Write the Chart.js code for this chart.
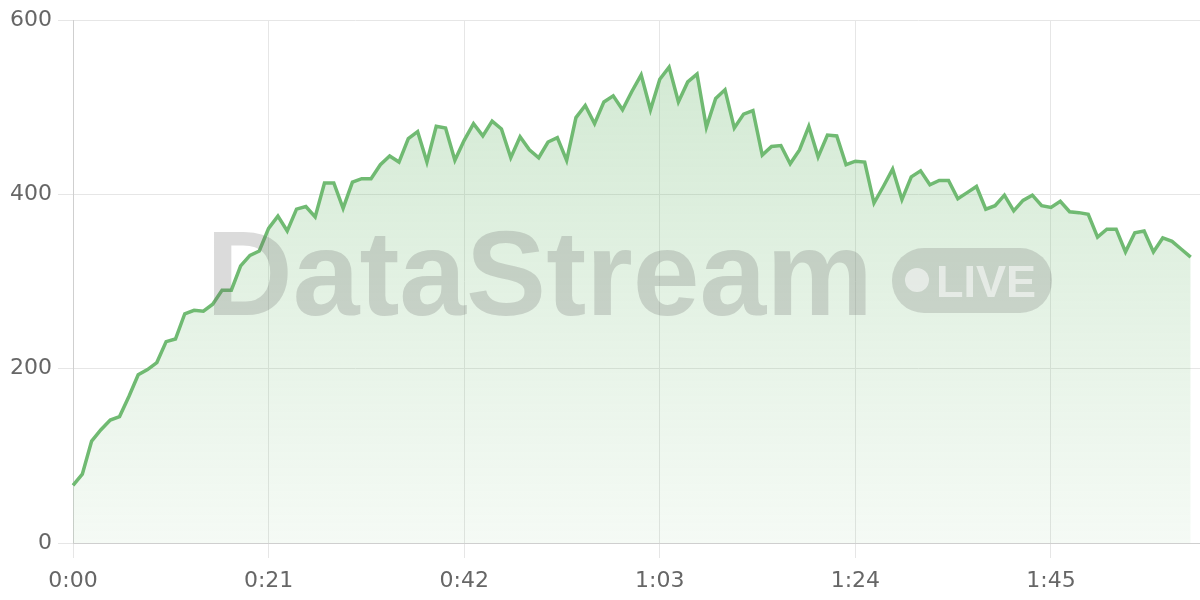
<!DOCTYPE html>
<html>
<head>
<meta charset="utf-8">
<script src="https://cdn.jsdelivr.net/npm/chart.js@4.4.0/dist/chart.umd.min.js"></script>
<style>
  html, body { margin: 0; padding: 0; background: #fff; }
  #wrap { position: relative; width: 1200px; height: 600px; }
  .wm { position: absolute; pointer-events: none; line-height: 1; white-space: nowrap;
        font-family: "Liberation Sans", Arial, sans-serif; }
  #wm-nombre { left: 206px; top: 213px; font-size: 120px; font-weight: bold; color: rgba(100,100,100,0.23); }
  #wm-live { left: 892px; top: 248px; width: 160px; height: 65px; border-radius: 32px; background: rgba(100,100,100,0.22); }
  #wm-punto { position: absolute; left: 13px; top: 20px; width: 24px; height: 24px; border-radius: 50%; background: rgba(255,255,255,0.55); }
  #wm-texto { position: absolute; left: 44px; top: 11px; font-size: 45px; font-weight: bold; line-height: 1; color: rgba(255,255,255,0.55); }
</style>
</head>
<body>
<div id="wrap">
  <canvas id="grafico" width="1200" height="600"></canvas>
  <div class="wm" id="wm-nombre">DataStream</div>
  <div class="wm" id="wm-live"><div id="wm-punto"></div><div id="wm-texto">LIVE</div></div>
</div>
<script>
// Valores (uno por segundo)
const valores = [
  66, 79, 117, 130, 141, 145, 168, 193, 199, 207,
  231, 234, 263, 267, 266, 274, 290, 290, 318, 330,
  335, 361, 375, 358, 383, 386, 374, 413, 413, 384,
  414, 418, 418, 434, 444, 437, 464, 472, 437, 478,
  476, 439, 462, 481, 467, 484, 475, 442, 466, 451,
  442, 460, 465, 439, 488, 502, 481, 506, 513, 497,
  518, 537, 497, 532, 546, 506, 529, 538, 477, 510,
  520, 476, 492, 496, 445, 455, 456, 435, 451, 478,
  443, 468, 467, 434, 438, 437, 390, 409, 429, 394,
  420, 427, 411, 416, 416, 395, 402, 409, 383, 387,
  399, 381, 393, 399, 387, 385, 392, 380, 379, 377,
  351, 360, 360, 334, 356, 358, 334, 350, 346, 337,
  328
];

// Etiquetas de tiempo (m:ss), una mas que los datos
const tiempos = [];
for (let s = 0; s <= valores.length; s++) {
  tiempos.push(Math.floor(s / 60) + ":" + String(s % 60).padStart(2, "0"));
}

// Marcas visibles en el eje X
const marcas = ["0:00", "0:21", "0:42", "1:03", "1:24", "1:45"];
const verde = "rgb(112,186,114)";
const fuente = { family: "DejaVu Sans", size: 22 };

const ctx = document.getElementById("grafico");
new Chart(ctx, {
  type: "line",
  data: {
    labels: tiempos,
    datasets: [
      {
        data: valores,
        borderColor: verde,
        borderWidth: 3.5,
        pointRadius: 0,
        tension: 0,
        fill: "origin",
        backgroundColor: (c) => {
          const area = c.chart.chartArea;
          if (!area) return "rgba(112,186,114,0.2)";
          const g = c.chart.ctx.createLinearGradient(0, area.top, 0, area.bottom);
          g.addColorStop(0, "rgba(112,186,114,0.33)");
          g.addColorStop(1, "rgba(112,186,114,0.07)");
          return g;
        },
      },
    ],
  },
  options: {
    responsive: false,
    animation: false,
    devicePixelRatio: 1,
    layout: { padding: { top: 20, right: 0, left: 0, bottom: 0 } },
    plugins: { legend: { display: false }, tooltip: { enabled: false } },
    scales: {
      x: {
        type: "category",
        afterFit: (s) => { s.height = 57; },
        grid: {
          tickLength: 15,
          color: (c) => (c.tick && marcas.includes(c.tick.label) ? "#e6e6e6" : "rgba(0,0,0,0)"),
        },
        border: { color: "#cfcfcf" },
        ticks: {
          autoSkip: false,
          maxRotation: 0,
          padding: 10,
          color: "#666",
          font: fuente,
          callback: (v, i) => (marcas.includes(tiempos[i]) ? tiempos[i] : null),
        },
      },
      y: {
        min: 0,
        max: 600,
        afterFit: (s) => { s.width = 73; },
        grid: { tickLength: 15, color: "#e6e6e6" },
        border: { color: "#cfcfcf" },
        ticks: { stepSize: 200, padding: 6, color: "#666", font: fuente },
      },
    },
  },
});
</script>
</body>
</html>
